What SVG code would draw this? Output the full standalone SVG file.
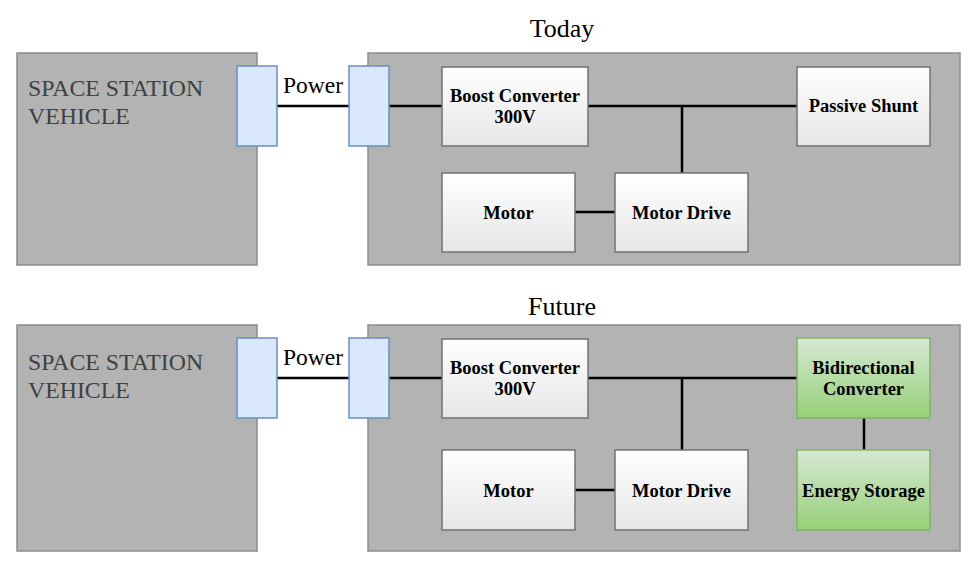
<svg xmlns="http://www.w3.org/2000/svg" width="975" height="563" viewBox="0 0 975 563">
<defs>
<linearGradient id="gw" x1="0" y1="0" x2="0" y2="1"><stop offset="0" stop-color="#ffffff"/><stop offset="1" stop-color="#e6e6e6"/></linearGradient>
<linearGradient id="gg" x1="0" y1="0" x2="0" y2="1"><stop offset="0" stop-color="#d5e8d4"/><stop offset="1" stop-color="#97d077"/></linearGradient>
</defs>
<style>
.bg{fill:#b3b3b3;stroke:#8c8c8c;stroke-width:1.5}
.port{fill:#dae8fc;stroke:#6c8ebf;stroke-width:1.5}
.nd{fill:url(#gw);stroke:#737373;stroke-width:1.5}
.gn{fill:url(#gg);stroke:#82b366;stroke-width:1.5}
.ttl{font-family:"Liberation Serif",serif;font-size:26px;fill:#000;text-anchor:middle}
.veh{font-family:"Liberation Serif",serif;font-size:23.8px;fill:#404040}
.pw{font-family:"Liberation Serif",serif;font-size:23.5px;fill:#000}
.lb{font-family:"Liberation Serif",serif;font-size:18.5px;font-weight:bold;fill:#000;text-anchor:middle}
.ln{stroke:#000;stroke-width:2.5;fill:none}
</style>
<text class="ttl" x="562" y="37">Today</text>
<text class="ttl" x="562" y="315">Future</text>

<g id="vehicle-today"><rect class="bg" x="17" y="53" width="240" height="212"/><text class="veh" x="28" y="96">SPACE STATION</text><text class="veh" x="28" y="124">VEHICLE</text></g>
<g id="system-today"><rect class="bg" x="368" y="53" width="592" height="212"/></g>
<g id="vehicle-future"><rect class="bg" x="17" y="325" width="240" height="226"/><text class="veh" x="28" y="370">SPACE STATION</text><text class="veh" x="28" y="398">VEHICLE</text></g>
<g id="system-future"><rect class="bg" x="368" y="325" width="592" height="226"/></g>

<g id="connectors">
<path class="ln" d="M277 106H349M389 106H442M588 106H797M682 106V173M575 212H615"/>
<path class="ln" d="M277 378H349M389 378H442M588 378H797M682 378V450M575 490H615M864 418V450"/>
</g>

<g id="port-a-today"><rect class="port" x="237" y="66" width="40" height="80"/></g>
<g id="port-b-today"><rect class="port" x="349" y="66" width="40" height="80"/></g>
<text class="pw" x="283" y="93">Power</text>
<g id="boost-today"><rect class="nd" x="442" y="67" width="146" height="79"/><text class="lb" x="515" y="102">Boost Converter</text><text class="lb" x="515" y="123">300V</text></g>
<g id="shunt-today"><rect class="nd" x="797" y="67" width="133" height="79"/><text class="lb" x="863.5" y="112">Passive Shunt</text></g>
<g id="motor-today"><rect class="nd" x="442" y="173" width="133" height="79"/><text class="lb" x="508.5" y="218.5">Motor</text></g>
<g id="drive-today"><rect class="nd" x="615" y="173" width="133" height="79"/><text class="lb" x="681.5" y="218.5">Motor Drive</text></g>

<g id="port-a-future"><rect class="port" x="237" y="338" width="40" height="80"/></g>
<g id="port-b-future"><rect class="port" x="349" y="338" width="40" height="80"/></g>
<text class="pw" x="283" y="365">Power</text>
<g id="boost-future"><rect class="nd" x="442" y="339" width="146" height="79"/><text class="lb" x="515" y="374">Boost Converter</text><text class="lb" x="515" y="395">300V</text></g>
<g id="bidir-future"><rect class="gn" x="797" y="338" width="133" height="80"/><text class="lb" x="863.5" y="374">Bidirectional</text><text class="lb" x="863.5" y="395">Converter</text></g>
<g id="motor-future"><rect class="nd" x="442" y="450" width="133" height="80"/><text class="lb" x="508.5" y="496.5">Motor</text></g>
<g id="drive-future"><rect class="nd" x="615" y="450" width="133" height="80"/><text class="lb" x="681.5" y="496.5">Motor Drive</text></g>
<g id="storage-future"><rect class="gn" x="797" y="450" width="133" height="80"/><text class="lb" x="863.5" y="496.5">Energy Storage</text></g>
</svg>
